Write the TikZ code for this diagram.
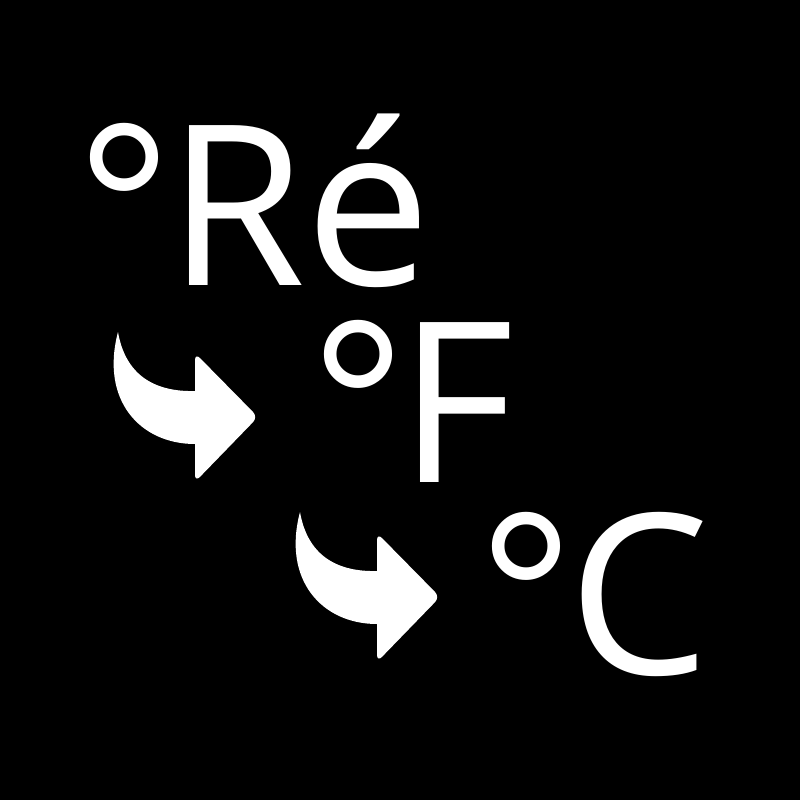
\documentclass[tikz,border=0pt]{standalone}
\usepackage{fontspec}
\setmainfont{Open Sans}
\begin{document}
\begin{tikzpicture}[x=1pt,y=-1pt,
  lbl/.style={text=white,inner sep=0pt,anchor=base west,font=\fontsize{224}{224}\selectfont},
  arr/.style={fill=white}]
\fill[black] (0,0) rectangle (800,800);
\useasboundingbox (0,0) rectangle (800,800);
\node[lbl] (re) at (76,285) {°\kern-5ptRé};
\node[lbl] (f) at (310,482) {°\kern-8ptF};
\node[lbl] (c) at (478,674) {°\kern-6ptC};
\foreach \dx/\dy/\nm in {0/0/a1,182/180/a2}{
  \begin{scope}[shift={(\dx,\dy)}]
  \coordinate (\nm) at (118,332);
  \fill[arr] (118,332) .. controls (126,378) and (158,392) .. (195,391)
    [rounded corners=7] -- (195,353) -- (258,417) -- (195,482) [sharp corners] -- (195,444)
    .. controls (140,444) and (100,400) .. (118,332) -- cycle;
  \end{scope}
}
\end{tikzpicture}
\end{document}
